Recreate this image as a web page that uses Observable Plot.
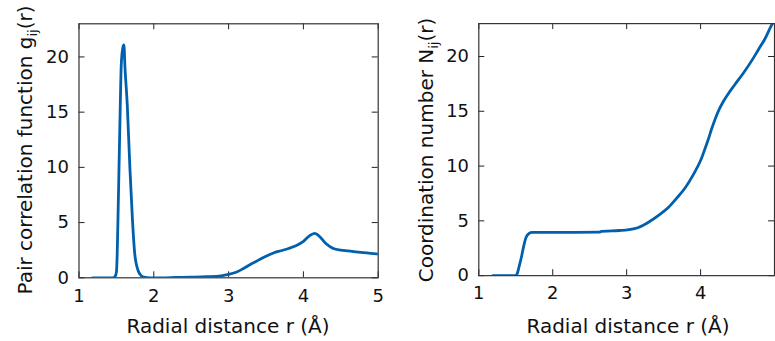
<!DOCTYPE html>
<html><head><meta charset="utf-8">
<script src="https://cdn.jsdelivr.net/npm/d3@7"></script>
<script src="https://cdn.jsdelivr.net/npm/@observablehq/plot@0.6"></script>
<style>
body{margin:0;background:#fff}
#c{position:relative;width:775px;height:341px;overflow:hidden;font-family:"DejaVu Sans",sans-serif}
#c > div, #c > svg{position:absolute;top:0}
</style>
</head><body><div id="c"></div>
<script>
// Pair correlation function g_ij(r)
const gR   = [1.18,1.30,1.45,1.48,1.50,1.51,1.52,1.535,1.55,1.565,1.585,1.60,1.615,1.645,1.68,1.715,1.745,1.79,1.83,1.87,1.95,2.1,2.3,2.5,2.7,2.9,3.0,3.1,3.2,3.3,3.4,3.5,3.6,3.7,3.8,3.9,4.0,4.08,4.15,4.2,4.3,4.4,4.5,4.6,4.7,4.8,4.9,5.0];
const gVal = [0,0,0,0.1,0.5,2,5,10,15,19.3,20.8,21.1,19.0,15.7,10,5.2,2.2,0.66,0.2,0.05,0.0,0.0,0.03,0.06,0.1,0.18,0.3,0.5,0.85,1.25,1.6,1.95,2.25,2.45,2.65,2.9,3.3,3.8,4.02,3.85,3.1,2.65,2.5,2.43,2.35,2.28,2.22,2.15];
// Coordination number N_ij(r)
const nR   = [1.19,1.35,1.50,1.52,1.55,1.58,1.60,1.64,1.68,1.72,2.0,2.3,2.63,2.66,2.8,2.9,3.03,3.16,3.3,3.45,3.56,3.68,3.79,3.9,4.0,4.05,4.1,4.15,4.2,4.25,4.3,4.37,4.46,4.58,4.69,4.78,4.87,4.98,5.0];
const nVal = [0,0,0,0.2,0.96,1.8,2.47,3.5,3.85,3.95,3.95,3.95,3.97,4.05,4.08,4.12,4.2,4.4,4.9,5.6,6.2,7.1,8.0,9.2,10.5,11.4,12.35,13.4,14.35,15.15,15.8,16.55,17.4,18.5,19.6,20.6,21.6,23.1,23.3];

const xTicksLeft = [1,2,3,4,5];
const xTicksRight = [1,2,3,4];
const yTicks = [0,5,10,15,20];
const xDomain = [1,5];
const yDomain = [0,23];
const xLabelText = "Radial distance r (Å)";
const yLabelLeft = ["Pair correlation function g", "ij", "(r)"];
const yLabelRight = ["Coordination number N", "ij", "(r)"];

const blue = "#0060ad";
const H = 341, mT = 23.3, mB = 63.7;
const innerH = H - mT - mB;

function panel(r, v, width, mL, mR, xLab) {
  const innerW = width - mL - mR;
  const tickStroke = "#222";
  return Plot.plot({
    width, height: H, marginLeft: mL, marginRight: mR, marginTop: mT, marginBottom: mB,
    x: {domain: xDomain}, y: {domain: yDomain},
    style: {fontFamily: "DejaVu Sans", fontSize: "18px", background: "transparent", color: "#111"},
    marks: [
      Plot.axisX(xLab, {anchor: "bottom", tickSize: 0, tickPadding: 11, label: null}),
      Plot.axisY(yTicks, {anchor: "left", tickSize: 0, tickPadding: 10, label: null}),
      Plot.tickX(xTicksLeft, {x: d => d, insetTop: innerH - 6, stroke: tickStroke}),
      Plot.tickX(xTicksLeft, {x: d => d, insetBottom: innerH - 6, stroke: tickStroke}),
      Plot.tickY(yTicks, {y: d => d, insetRight: innerW - 6, stroke: tickStroke}),
      Plot.tickY(yTicks, {y: d => d, insetLeft: innerW - 6, stroke: tickStroke}),
      Plot.line(r.map((x, i) => ({x, y: v[i]})), {x: "x", y: "y", stroke: blue, strokeWidth: 2.8, curve: "monotone-x", clip: true}),
      Plot.frame({stroke: "#333", strokeWidth: 1.2})
    ]
  });
}

const c = document.getElementById("c");
const left = panel(gR, gVal, 390, 78.5, 12.3, xTicksLeft);
const lw = document.createElement("div"); lw.style.left = "0px"; lw.appendChild(left); c.appendChild(lw);
const right = panel(nR, nVal, 388, 89, 1, xTicksRight);
const rw = document.createElement("div"); rw.style.left = "390px"; rw.appendChild(right); c.appendChild(rw);

// axis titles overlay
const svg = d3.select(c).append("svg").attr("width", 775).attr("height", 341)
  .style("left", "0px").style("font-family", "DejaVu Sans").style("font-size", "20px").attr("fill", "#111");
svg.append("text").attr("x", 228).attr("y", 333).attr("text-anchor", "middle").text(xLabelText);
svg.append("text").attr("x", 628).attr("y", 333).attr("text-anchor", "middle").text(xLabelText);
function yTitle(x, parts) {
  const t = svg.append("text").attr("transform", `translate(${x},150) rotate(-90)`).attr("text-anchor", "middle");
  t.append("tspan").text(parts[0]);
  t.append("tspan").attr("font-size", "13px").attr("dy", 5).text(parts[1]);
  t.append("tspan").attr("dy", -5).text(parts[2]);
}
yTitle(32, yLabelLeft);
yTitle(432.5, yLabelRight);
</script>
</body></html>
